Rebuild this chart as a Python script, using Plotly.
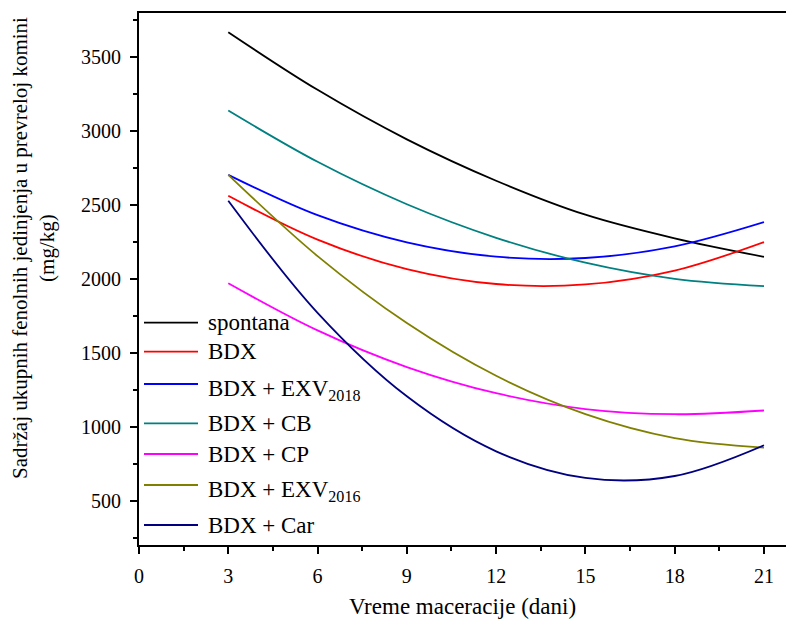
import plotly.graph_objects as go

days = [3, 6, 9, 12, 15, 18, 21]

series_names = ["spontana", "BDX", "BDX + EXV<sub>2018</sub>", "BDX + CB",
                "BDX + CP", "BDX + EXV<sub>2016</sub>", "BDX + Car"]
series_colors = ["#000000", "#ff0000", "#0000ff", "#008080",
                 "#ff00ff", "#808000", "#000080"]

spontana = [3670, 3280, 2945, 2665, 2435, 2275, 2150]
bdx = [2563, 2266, 2067, 1966, 1963, 2057, 2250]
bdx_exv2018 = [2705, 2432, 2248, 2151, 2142, 2221, 2385]
bdx_cb = [3140, 2793, 2506, 2279, 2110, 2001, 1952]
bdx_cp = [1971, 1652, 1404, 1227, 1120, 1085, 1110]
bdx_exv2016 = [2705, 2155, 1702, 1345, 1086, 924, 859]
bdx_car = [2529, 1771, 1206, 834, 654, 667, 875]

series_values = [spontana, bdx, bdx_exv2018, bdx_cb, bdx_cp, bdx_exv2016, bdx_car]

x_ticks = [0, 3, 6, 9, 12, 15, 18, 21]
y_ticks = [500, 1000, 1500, 2000, 2500, 3000, 3500]

x_title = "Vreme maceracije (dani)"
y_title = "Sadržaj ukupnih fenolnih jedinjenja u prevreloj komini<br>(mg/kg)"

# legend placement (pixels in the 786x619 page)
legend_y_px = [322.7, 351.7, 384, 423.3, 454, 485, 525]

W, H = 786, 619
ml, mr, mt, mb = 139, 0, 13, 74
pw, ph = W - ml - mr, H - mt - mb

font_family = "Liberation Serif"

fig = go.Figure()
for name, col, vals in zip(series_names, series_colors, series_values):
    fig.add_trace(go.Scatter(x=days, y=vals, mode="lines", name=name,
                             line=dict(color=col, width=1.8, shape="spline", smoothing=1.0),
                             showlegend=False))

# manual legend
for name, col, ypx in zip(series_names, series_colors, legend_y_px):
    yp = (mt + ph - ypx) / ph
    x0 = (144 - ml) / pw
    x1 = (198 - ml) / pw
    fig.add_shape(type="line", xref="paper", yref="paper", x0=x0, x1=x1, y0=yp, y1=yp,
                  line=dict(color=col, width=1.8))
    has_sub = "<sub>" in name
    fig.add_annotation(xref="paper", yref="paper", x=(206 - ml) / pw,
                       y=yp, yshift=(-6 if has_sub else 0), xanchor="left", yanchor="middle",
                       text=name, showarrow=False,
                       font=dict(family=font_family, size=23, color="#000000"))

# y axis title (placed as rotated text)
fig.add_annotation(xref="paper", yref="paper", x=(34 - ml) / pw, y=(mt + ph - 248) / ph,
                   xanchor="center", yanchor="middle", textangle=-90, showarrow=False,
                   text=y_title, font=dict(family=font_family, size=21, color="#000000"))

fig.update_layout(
    width=W, height=H,
    margin=dict(l=ml, r=mr, t=mt, b=mb, pad=0),
    paper_bgcolor="white", plot_bgcolor="white",
    font=dict(family=font_family, color="#000000"),
    xaxis=dict(range=[0, 21.74], tickvals=x_ticks, ticktext=[str(v) for v in x_ticks],
               ticks="outside", ticklen=7, tickwidth=1.5, tickcolor="black",
               minor=dict(dtick=1.5, tick0=0, ticks="outside", ticklen=4, tickwidth=1.5,
                          tickcolor="black", showgrid=False),
               showline=True, linecolor="black", linewidth=1.8, mirror=True,
               showgrid=False, zeroline=False, ticklabelstandoff=5,
               tickfont=dict(size=20, family=font_family),
               title=dict(text=x_title, standoff=12,
                          font=dict(size=23, family=font_family))),
    yaxis=dict(range=[200, 3800], tickvals=y_ticks, ticktext=[str(v) for v in y_ticks],
               ticks="outside", ticklen=7, tickwidth=1.5, tickcolor="black",
               minor=dict(dtick=250, tick0=0, ticks="outside", ticklen=4, tickwidth=1.5,
                          tickcolor="black", showgrid=False),
               showline=True, linecolor="black", linewidth=1.8, mirror=False,
               showgrid=False, zeroline=False, ticklabelstandoff=5,
               tickfont=dict(size=20, family=font_family)),
)

fig.write_html("out.html")
